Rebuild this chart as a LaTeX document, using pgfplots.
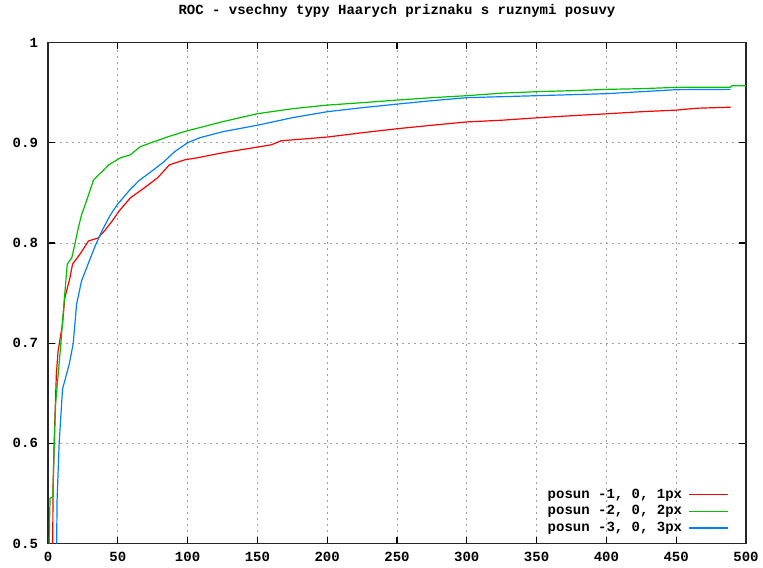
\documentclass[border=0pt]{standalone}
\usepackage{fontspec}
\setmonofont{Liberation Mono}
\usepackage{pgfplots}
\pgfplotsset{compat=1.18}
\usetikzlibrary{calc}
\definecolor{gpred}{RGB}{255,0,0}
\definecolor{gpgreen}{RGB}{0,192,0}
\definecolor{gpblue}{RGB}{0,128,255}
\begin{document}
\begin{tikzpicture}
\begin{axis}[
  scale only axis,
  width=523.5pt, height=375.75pt,
  xmin=0, xmax=500, ymin=0.5, ymax=1,
  xtick={0,50,...,500},
  ytick={0.5,0.6,0.7,0.8,0.9,1},
  yticklabels={0.5,0.6,0.7,0.8,0.9,1},
  xticklabels={0,50,100,150,200,250,300,350,400,450,500},
  tick align=inside,
  major tick length=5pt,
  tick style={black, line width=0.8pt},
  axis line style={black!85, line width=1.1pt},
  grid=major,
  major grid style={gray!75, line width=0.6pt, dash pattern=on 1.5pt off 3pt},
  ticklabel style={font=\fontsize{10.5}{12}\selectfont\ttfamily\bfseries},
  xticklabel style={yshift=-3pt},
  yticklabel style={xshift=-4pt},
  title={ROC - vsechny typy Haarych priznaku s ruznymi posuvy},
  title style={font=\fontsize{10.5}{12}\selectfont\ttfamily\bfseries, at={(0.5,1)}, anchor=base, yshift=15pt},
  legend plot pos=right,
  legend cell align=right,
  legend style={at={(rel axis cs:0.9756,0.014)}, anchor=south east, draw=none, fill=none,
    font=\fontsize{10.5}{12}\selectfont\ttfamily\bfseries, inner sep=0pt, row sep=0pt,
    column sep=3pt},
  legend image code/.code={\draw[#1, line width=0.9pt] (0pt,0pt) -- (29pt,0pt);},
]
\addplot[gpred, line width=0.9pt] coordinates {
(3.4,0.5)(3.6,0.556)(4.8,0.619)(6,0.669)(7.2,0.692)(10.4,0.719)(12,0.745)(15.7,0.765)(17.6,0.779)(23,0.789)(29,0.802)(36,0.805)(41,0.813)(46,0.822)(51,0.832)(59,0.845)(69,0.855)(78.5,0.865)(87,0.878)(98,0.883)(107,0.885)(125,0.890)(150,0.8957)(160,0.898)(167,0.902)(200,0.9057)(225,0.910)(250,0.914)(275,0.9175)(300,0.9208)(325,0.9225)(350,0.9249)(375,0.927)(400,0.9289)(425,0.931)(450,0.9326)(465,0.9345)(489,0.9355)
};
\addlegendentry{posun -1, 0, 1px}
\addplot[gpgreen, line width=0.9pt] coordinates {
(0.9,0.5)(1.2,0.53)(1.5,0.545)(3.5,0.547)(4.5,0.6)(5.5,0.64)(7.5,0.672)(9.2,0.699)(11,0.732)(12,0.749)(13.8,0.779)(17,0.785)(19.3,0.799)(21.7,0.815)(24,0.828)(26.6,0.838)(30,0.852)(32.6,0.863)(38.6,0.871)(43.5,0.878)(52,0.885)(59,0.888)(66,0.896)(73.7,0.9)(86,0.906)(95,0.910)(100,0.912)(125,0.921)(150,0.929)(175,0.934)(200,0.9376)(225,0.940)(250,0.9426)(275,0.945)(300,0.947)(325,0.9495)(350,0.951)(375,0.952)(400,0.9533)(425,0.954)(450,0.9553)(489,0.9555)(490,0.957)(500,0.957)
};
\addlegendentry{posun -2, 0, 2px}
\addplot[gpblue, line width=0.9pt] coordinates {
(6.2,0.5)(6.5,0.543)(8,0.6)(10.4,0.654)(15.2,0.679)(18,0.699)(20.5,0.739)(24,0.762)(29,0.780)(33.8,0.797)(38.6,0.812)(44.7,0.828)(49.5,0.838)(58,0.852)(65,0.862)(73.7,0.871)(83,0.881)(90.6,0.891)(100,0.9)(108.7,0.905)(125,0.911)(150,0.9175)(175,0.925)(200,0.931)(225,0.935)(250,0.9386)(275,0.942)(300,0.945)(325,0.946)(350,0.947)(375,0.948)(400,0.949)(425,0.951)(450,0.953)(489,0.9533)
};
\addlegendentry{posun -3, 0, 3px}
\end{axis}
\path ($(current axis.south west)+(-36pt,-18pt)$) rectangle ($(current axis.north east)+(12.75pt,31.5pt)$);
\end{tikzpicture}
\end{document}
